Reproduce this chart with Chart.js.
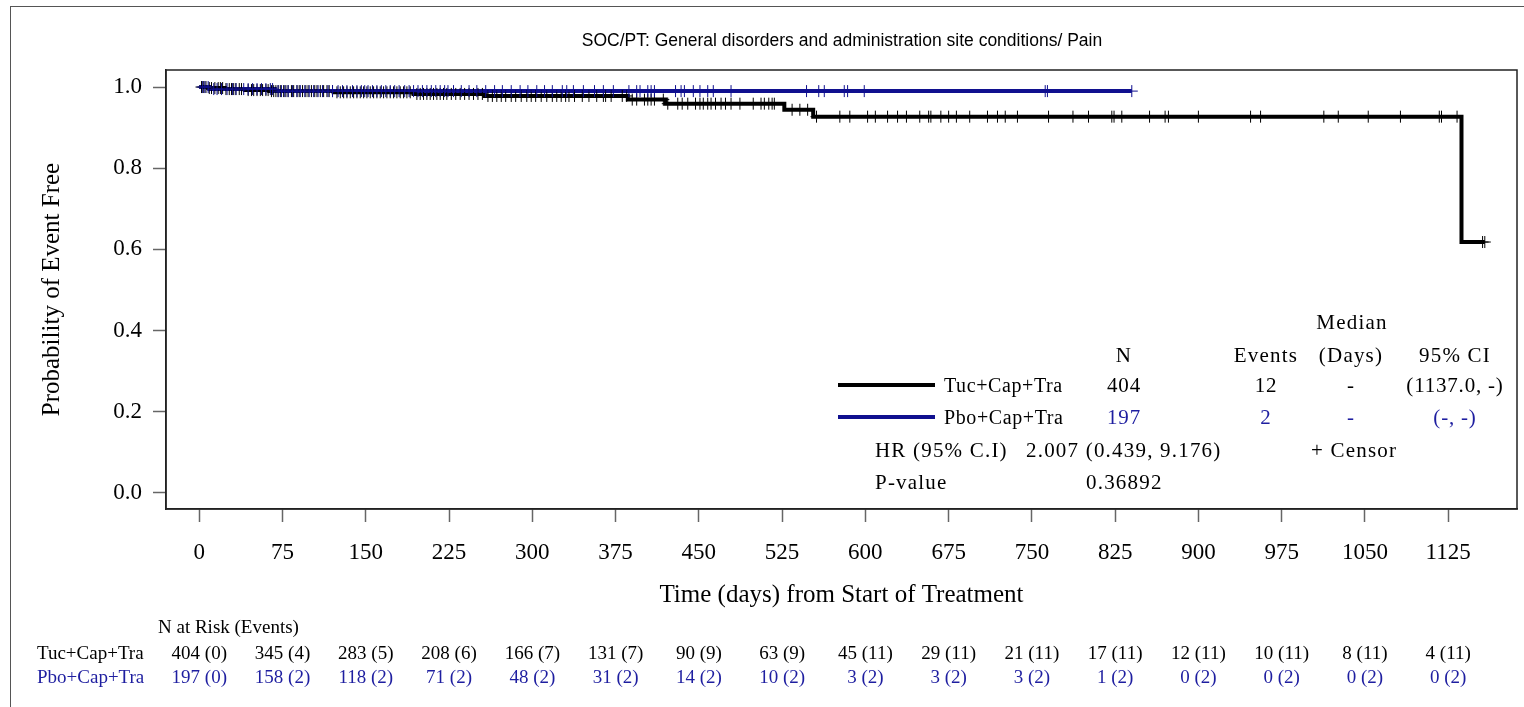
<!DOCTYPE html>
<html>
<head>
<meta charset="utf-8">
<script src="https://cdn.jsdelivr.net/npm/chart.js@4.4.0/dist/chart.umd.min.js"></script>
<style>
  html, body { margin: 0; padding: 0; background: #fff; overflow: hidden; }
  #wrap { position: relative; width: 1524px; height: 707px; overflow: hidden; }
  #frame { position: absolute; left: 10px; top: 6px; width: 1600px; height: 800px; border: 1px solid #555; }
  #chart { position: absolute; left: 0; top: 0; }
  .t { position: absolute; white-space: nowrap; font-family: "Liberation Serif", "Times New Roman", serif;
       line-height: 1; transform: translateY(-50%); color: #000; }
  .c { transform: translate(-50%, -50%); }
  .st { font-size: 21px; letter-spacing: 1.2px; }
  .sv { font-size: 21px; letter-spacing: 0.8px; }
  .sg { font-size: 20px; letter-spacing: 0.6px; }
  .rk { font-size: 19px; }
  #title { position: absolute; left: 842px; top: 40px; transform: translate(-50%, -50%); white-space: nowrap;
           font-family: "Liberation Sans", Arial, sans-serif; font-size: 17.5px; color: #000; }
  .lg { position: absolute; left: 838px; width: 97px; height: 4px; }
</style>
</head>
<body>
<div id="wrap">
  <div id="frame"></div>
  <canvas id="chart" width="1524" height="707"></canvas>
  <div id="title">SOC/PT: General disorders and administration site conditions/ Pain</div>
  <div id="overlay"></div>
</div>
<script>
// 组别
const groups = ['Tuc+Cap+Tra', 'Pbo+Cap+Tra'];
const groupColors = ['#000000', '#10108f'];
const textColors = ['#000000', '#1e1ea0'];

// 坐标轴刻度
const xTicks = [0, 75, 150, 225, 300, 375, 450, 525, 600, 675, 750, 825, 900, 975, 1050, 1125];
const yTicks = [0, 0.2, 0.4, 0.6, 0.8, 1.0];

// KM 曲线阶梯 (天, 该天之后的生存率)
const tucDays = [0, 8, 23, 41, 63, 121, 193, 257, 386, 420, 527, 553, 1137, 1158];
const tucSurv = [1, 0.9975, 0.995, 0.9925, 0.99, 0.987, 0.983, 0.978, 0.969, 0.959, 0.944, 0.927, 0.618, 0.618];
const pboDays = [0, 9, 68, 840];
const pboSurv = [1, 0.995, 0.990, 0.990];

// 删失时间
const tucCensor = [2, 4, 6, 9, 11, 14, 17, 19, 21, 24, 27, 29, 31, 33, 36, 38, 44, 47, 49, 52, 55, 57, 60, 62, 65, 67, 69, 71, 73,
  76, 78, 80, 83, 85, 88, 90, 93, 96, 98, 101, 104, 106, 109, 112, 115, 117, 120, 124, 127, 130, 133, 136, 139, 142, 145, 148,
  151, 154, 157, 160, 163, 166, 169, 172, 175, 178, 181, 184, 187, 190, 196, 199, 202, 205, 208, 211, 214, 217, 220, 223,
  227, 231, 235, 239, 243, 247, 251, 255, 260, 264, 268, 272, 276, 281, 285, 290, 295, 299,
  303, 308, 313, 318, 322, 326, 330, 333, 338, 345, 351, 358, 364, 366, 371,
  381, 385, 390, 394, 401, 404, 407, 410, 418, 422, 431, 435, 440, 447,
  451, 454, 458, 461, 465, 470, 474, 479, 487, 499, 506, 509, 513, 516, 518,
  534, 541, 548, 556, 577, 586,
  602, 609, 620, 629, 637, 649, 657, 659, 668, 675, 682, 694, 710, 719, 726, 737, 765, 787, 801, 822, 824, 831,
  856, 870, 873, 900, 947, 956, 1013, 1026, 1053, 1082, 1117, 1119, 1133, 1156, 1158];
const pboCensor = [3, 5, 8, 13, 16, 20, 25, 30, 33, 40, 44, 48, 52, 56, 60, 64, 66, 71, 74,
  77, 80, 84, 88, 91, 95, 99, 103, 107, 111, 116, 120, 125, 129, 133, 138, 142, 146, 149,
  152, 156, 160, 164, 168, 172, 176, 180, 185, 189, 193, 197, 201, 205, 209, 213, 217, 221, 224,
  229, 236, 243, 250, 258, 266, 273, 281, 289, 296,
  304, 311, 318, 327, 331, 337, 346, 356, 364, 373,
  387, 394, 397, 404, 407, 410, 429, 434, 437, 445,
  451, 458, 463, 479, 547, 558, 563, 581, 584, 599, 762, 764, 840];

// 统计表
const groupN = [404, 197];
const groupEvents = [12, 2];
const groupMedian = ['-', '-'];
const groupCI = ['(1137.0, -)', '(-, -)'];
const hrText = '2.007 (0.439, 9.176)';
const pValue = '0.36892';

// 风险人数表
const tucRisk = [404, 345, 283, 208, 166, 131, 90, 63, 45, 29, 21, 17, 12, 10, 8, 4];
const tucRiskEv = [0, 4, 5, 6, 7, 7, 9, 9, 11, 11, 11, 11, 11, 11, 11, 11];
const pboRisk = [197, 158, 118, 71, 48, 31, 14, 10, 3, 3, 3, 1, 0, 0, 0, 0];
const pboRiskEv = [0, 2, 2, 2, 2, 2, 2, 2, 2, 2, 2, 2, 2, 2, 2, 2];

const serif = 'Liberation Serif';

// 查找某时间点的生存率
function survAt(days, surv, t) {
  let v = surv[0];
  for (let i = 0; i < days.length; i++) {
    if (days[i] <= t) v = surv[i];
  }
  return v;
}

const toPts = (xs, ys) => xs.map((x, i) => ({ x: x, y: ys[i] }));

// 绘图区边框
const boxPlugin = {
  id: 'box',
  afterDraw(c) {
    const { ctx, chartArea: a } = c;
    ctx.save();
    ctx.strokeStyle = '#222';
    ctx.lineWidth = 1.5;
    ctx.strokeRect(a.left, a.top, a.right - a.left, a.bottom - a.top);
    ctx.restore();
  }
};

const chart = new Chart(document.getElementById('chart'), {
  type: 'scatter',
  data: {
    datasets: [
      {
        label: groups[0], data: toPts(tucDays, tucSurv), showLine: true, stepped: 'before',
        borderColor: groupColors[0], borderWidth: 4, pointRadius: 0, order: 4
      },
      {
        label: groups[1], data: toPts(pboDays, pboSurv), showLine: true, stepped: 'before',
        borderColor: groupColors[1], borderWidth: 4, pointRadius: 0, order: 3
      },
      {
        label: 'censor1', data: tucCensor.map(t => ({ x: t, y: survAt(tucDays, tucSurv, t) })),
        pointStyle: 'cross', pointRadius: 6, borderWidth: 1, borderColor: groupColors[0], order: 2
      },
      {
        label: 'censor2', data: pboCensor.map(t => ({ x: t, y: survAt(pboDays, pboSurv, t) })),
        pointStyle: 'cross', pointRadius: 6, borderWidth: 1, borderColor: groupColors[1], order: 1
      }
    ]
  },
  options: {
    responsive: false,
    animation: false,
    layout: { padding: { top: 70, right: 5, left: 0, bottom: 0 } },
    plugins: { legend: { display: false }, tooltip: { enabled: false } },
    scales: {
      x: {
        type: 'linear', min: -30, max: 1187,
        afterBuildTicks: s => { s.ticks = xTicks.map(v => ({ value: v })); },
        afterFit: s => { s.height = 198; },
        grid: { drawOnChartArea: false, tickLength: 13, tickColor: '#666', tickWidth: 1.5 },
        border: { display: true, color: '#222', width: 1.5 },
        ticks: {
          color: '#000', font: { family: serif, size: 23 }, padding: 17, maxRotation: 0, autoSkip: false,
          callback: v => String(v)
        },
        title: {
          display: true, text: 'Time (days) from Start of Treatment', color: '#000',
          font: { family: serif, size: 25 }, padding: { top: 0, bottom: 97 }
        }
      },
      y: {
        type: 'linear', min: -0.04, max: 1.042,
        afterBuildTicks: s => { s.ticks = yTicks.map(v => ({ value: v })); },
        afterFit: s => { s.width = 166; },
        grid: { drawOnChartArea: false, tickLength: 13, tickColor: '#666', tickWidth: 1.5 },
        border: { display: true, color: '#222', width: 1.5 },
        ticks: { color: '#000', font: { family: serif, size: 23 }, padding: 11, callback: v => v.toFixed(1) },
        title: {
          display: true, text: 'Probability of Event Free', color: '#000',
          font: { family: serif, size: 25 }, padding: { top: 37, bottom: 0 }
        }
      }
    }
  },
  plugins: [boxPlugin]
});

// 叠加文字
const overlay = document.getElementById('overlay');
function addText(text, x, y, cls, center, color) {
  const d = document.createElement('div');
  d.className = 't ' + cls + (center ? ' c' : '');
  d.textContent = text;
  d.style.left = x + 'px';
  d.style.top = y + 'px';
  if (color) d.style.color = color;
  overlay.appendChild(d);
}

// 统计表 / 图例
const rowY = [385, 417];
addText('Median', 1352, 322, 'st', true);
addText('N', 1124, 355, 'st', true);
addText('Events', 1266, 355, 'st', true);
addText('(Days)', 1351, 355, 'st', true);
addText('95% CI', 1455, 355, 'st', true);
groups.forEach((g, i) => {
  const ln = document.createElement('div');
  ln.className = 'lg';
  ln.style.top = (rowY[i] - 2) + 'px';
  ln.style.background = groupColors[i];
  overlay.appendChild(ln);
  addText(g, 944, rowY[i], 'sg', false);
  addText(String(groupN[i]), 1124, rowY[i], 'sv', true, textColors[i]);
  addText(String(groupEvents[i]), 1266, rowY[i], 'sv', true, textColors[i]);
  addText(groupMedian[i], 1351, rowY[i], 'sv', true, textColors[i]);
  addText(groupCI[i], 1455, rowY[i], 'sv', true, textColors[i]);
});
addText('HR (95% C.I)', 875, 450, 'st', false);
addText(hrText, 1026, 450, 'st', false);
addText('+ Censor', 1311, 450, 'st', false);
addText('P-value', 875, 482, 'st', false);
addText(pValue, 1086, 482, 'st', false);

// 风险人数表
const xs = chart.scales.x;
addText('N at Risk (Events)', 158, 626, 'rk', false);
const riskRows = [[tucRisk, tucRiskEv], [pboRisk, pboRiskEv]];
const riskY = [652, 676];
riskRows.forEach((r, i) => {
  addText(groups[i], 37, riskY[i], 'rk', false, textColors[i]);
  xTicks.forEach((t, k) => {
    addText(r[0][k] + ' (' + r[1][k] + ')', xs.getPixelForValue(t), riskY[i], 'rk', true, textColors[i]);
  });
});
</script>
</body>
</html>
